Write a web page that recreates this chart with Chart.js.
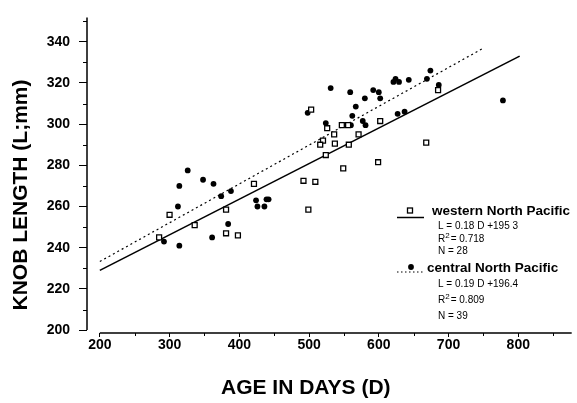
<!DOCTYPE html>
<html lang="en">
<head>
<meta charset="UTF-8">
<title>Knob length vs age</title>
<script src="https://cdn.jsdelivr.net/npm/chart.js"></script>
<style>
  html, body { margin: 0; padding: 0; background: #fff; }
  #wrap { width: 577px; height: 403px; }
</style>
</head>
<body>
<div id="wrap"><canvas id="chart" width="577" height="403"></canvas></div>
<script>
// western North Pacific (open squares): age in days, knob length in mm
const westDays   = [503, 526, 536, 520, 516, 537, 524, 492, 509, 421, 300, 381, 499, 336, 381, 398, 285, 685, 547, 556, 602, 571, 557, 668, 599, 549];
const westLength = [307, 298, 295, 292, 290, 290.5, 285, 272.5, 272, 271, 256, 258.5, 258.5, 251, 247, 246, 245, 316.5, 299.5, 299.5, 301.5, 295, 290, 291, 281.5, 278.5];

// central North Pacific (filled circles)
const centralDays   = [531, 498, 524, 326, 314, 348, 363, 388, 374, 424, 439, 442, 312, 426, 436, 384, 292, 361, 314, 559,
                       580, 592, 600, 602, 621, 624, 629, 643, 674, 669, 686, 567, 562, 577, 581, 627, 637, 560, 778];
const centralLength = [317.5, 305.5, 300.5, 277.5, 270, 273, 271, 267.5, 265, 263, 263.5, 263.5, 260, 260, 260, 251.5, 243, 245, 241, 315.5,
                       312.5, 316.5, 315.5, 312.5, 320.5, 322, 320.5, 321.5, 326, 322, 319, 308.5, 304, 301.5, 299.5, 305, 306, 299.5, 311.5];

// regression lines, end points as drawn
const westFitDays = [200, 802];
const westFitLength = [229, 333];
const centralFitDays = [200, 748];
const centralFitLength = [233.3, 336.5];

const xTicks = [200, 300, 400, 500, 600, 700, 800];
const yTicks = [200, 220, 240, 260, 280, 300, 320, 340];
const xMinor = [250, 350, 450, 550, 650, 750, 850];
const yMinor = [210, 230, 250, 270, 290, 310, 330, 350];

const FONT = '"Liberation Sans", Arial, sans-serif';

const toPoints = (xs, ys) => xs.map((x, i) => ({ x: x, y: ys[i] }));

// axes lines, minor ticks, titles and the legend block
const decor = {
  id: 'decor',
  afterDraw(chart) {
    const ctx = chart.ctx;
    const xs = chart.scales.x, ys = chart.scales.y;
    const area = chart.chartArea;
    ctx.save();
    ctx.strokeStyle = '#000';
    ctx.fillStyle = '#000';

    // axis lines
    ctx.lineWidth = 1.5;
    ctx.beginPath();
    ctx.moveTo(area.left, area.top);
    ctx.lineTo(area.left, ys.getPixelForValue(200));
    ctx.moveTo(xs.getPixelForValue(200), area.bottom);
    ctx.lineTo(area.right, area.bottom);
    ctx.stroke();

    // minor ticks
    ctx.lineWidth = 1;
    ctx.beginPath();
    yMinor.forEach(v => {
      const y = Math.round(ys.getPixelForValue(v)) + 0.5;
      ctx.moveTo(area.left, y);
      ctx.lineTo(area.left - 4, y);
    });
    xMinor.forEach(v => {
      const x = Math.round(xs.getPixelForValue(v)) + 0.5;
      ctx.moveTo(x, area.bottom);
      ctx.lineTo(x, area.bottom + 3);
    });
    ctx.stroke();

    // axis titles
    ctx.font = 'bold 21px ' + FONT;
    ctx.textBaseline = 'middle';
    ctx.textAlign = 'left';
    ctx.fillText('AGE IN DAYS (D)', 221, 388);
    ctx.save();
    ctx.translate(21, 195);
    ctx.rotate(-Math.PI / 2);
    ctx.textAlign = 'center';
    ctx.fillText('KNOB LENGTH (L;mm)', 0, 0);
    ctx.restore();

    // legend: western North Pacific
    ctx.lineWidth = 1.5;
    ctx.beginPath();
    ctx.moveTo(397, 217.5);
    ctx.lineTo(424, 217.5);
    ctx.stroke();
    ctx.lineWidth = 1.3;
    ctx.strokeRect(407.5, 208, 5, 5);

    ctx.textAlign = 'left';
    ctx.font = 'bold 13.5px ' + FONT;
    ctx.fillText('western North Pacific', 432, 211);

    const eq = (x, y, r2) => {
      ctx.font = '10px ' + FONT;
      ctx.fillText('R', x, y);
      const w = ctx.measureText('R').width;
      ctx.font = '8px ' + FONT;
      ctx.fillText('2', x + w, y - 3);
      const w2 = ctx.measureText('2').width;
      ctx.font = '10px ' + FONT;
      ctx.fillText('= ' + r2, x + w + w2 + 1, y);
    };

    ctx.font = '10px ' + FONT;
    ctx.fillText('L = 0.18 D +195 3', 438, 226.5);
    eq(438, 239, '0.718');
    ctx.font = '10px ' + FONT;
    ctx.fillText('N = 28', 438, 251);

    // legend: central North Pacific
    ctx.lineWidth = 1.2;
    ctx.setLineDash([1.5, 2.5]);
    ctx.beginPath();
    ctx.moveTo(397, 272);
    ctx.lineTo(425, 272);
    ctx.stroke();
    ctx.setLineDash([]);
    ctx.beginPath();
    ctx.arc(411, 267, 2.9, 0, Math.PI * 2);
    ctx.fill();

    ctx.font = 'bold 13.5px ' + FONT;
    ctx.fillText('central North Pacific', 427, 268);
    ctx.font = '10px ' + FONT;
    ctx.fillText('L = 0.19 D +196.4', 438, 284);
    eq(438, 300, '0.809');
    ctx.font = '10px ' + FONT;
    ctx.fillText('N = 39', 438, 316);

    ctx.restore();
  }
};

new Chart(document.getElementById('chart'), {
  type: 'scatter',
  data: {
    datasets: [
      {
        label: 'western North Pacific',
        data: toPoints(westDays, westLength),
        pointStyle: 'rect',
        pointRadius: 3.5,
        pointBorderWidth: 1.3,
        borderColor: '#000',
        backgroundColor: '#fff',
        order: 0
      },
      {
        label: 'central North Pacific',
        data: toPoints(centralDays, centralLength),
        pointStyle: 'circle',
        pointRadius: 2.9,
        pointBorderWidth: 0,
        borderColor: '#000',
        backgroundColor: '#000',
        order: 1
      },
      {
        type: 'line',
        label: 'western fit',
        data: toPoints(westFitDays, westFitLength),
        borderColor: '#000',
        borderWidth: 1.6,
        pointRadius: 0,
        order: 2
      },
      {
        type: 'line',
        label: 'central fit',
        data: toPoints(centralFitDays, centralFitLength),
        borderColor: '#000',
        borderWidth: 1.2,
        borderDash: [2, 3],
        pointRadius: 0,
        order: 3
      }
    ]
  },
  options: {
    responsive: false,
    animation: false,
    layout: { padding: { top: 8, right: 0, left: 0, bottom: 0 } },
    plugins: { legend: { display: false }, tooltip: { enabled: false } },
    scales: {
      x: {
        type: 'linear',
        min: 181.6,
        max: 876.6,
        afterBuildTicks: s => { s.ticks = xTicks.map(v => ({ value: v })); },
        afterFit: s => { s.height = 70; },
        border: { display: false },
        grid: { drawOnChartArea: false, tickLength: 4, color: '#000', lineWidth: 1 },
        ticks: { color: '#000', font: { family: FONT, size: 14, weight: 'bold' }, padding: 0, maxRotation: 0, autoSkip: false }
      },
      y: {
        min: 198.6,
        max: 351.8,
        afterBuildTicks: s => { s.ticks = yTicks.map(v => ({ value: v })); },
        afterFit: s => { s.width = 87; },
        border: { display: false },
        grid: { drawOnChartArea: false, tickLength: 8, color: '#000', lineWidth: 1 },
        ticks: { color: '#000', font: { family: FONT, size: 14, weight: 'bold' }, padding: 9, autoSkip: false }
      }
    }
  },
  plugins: [decor]
});
</script>
</body>
</html>
